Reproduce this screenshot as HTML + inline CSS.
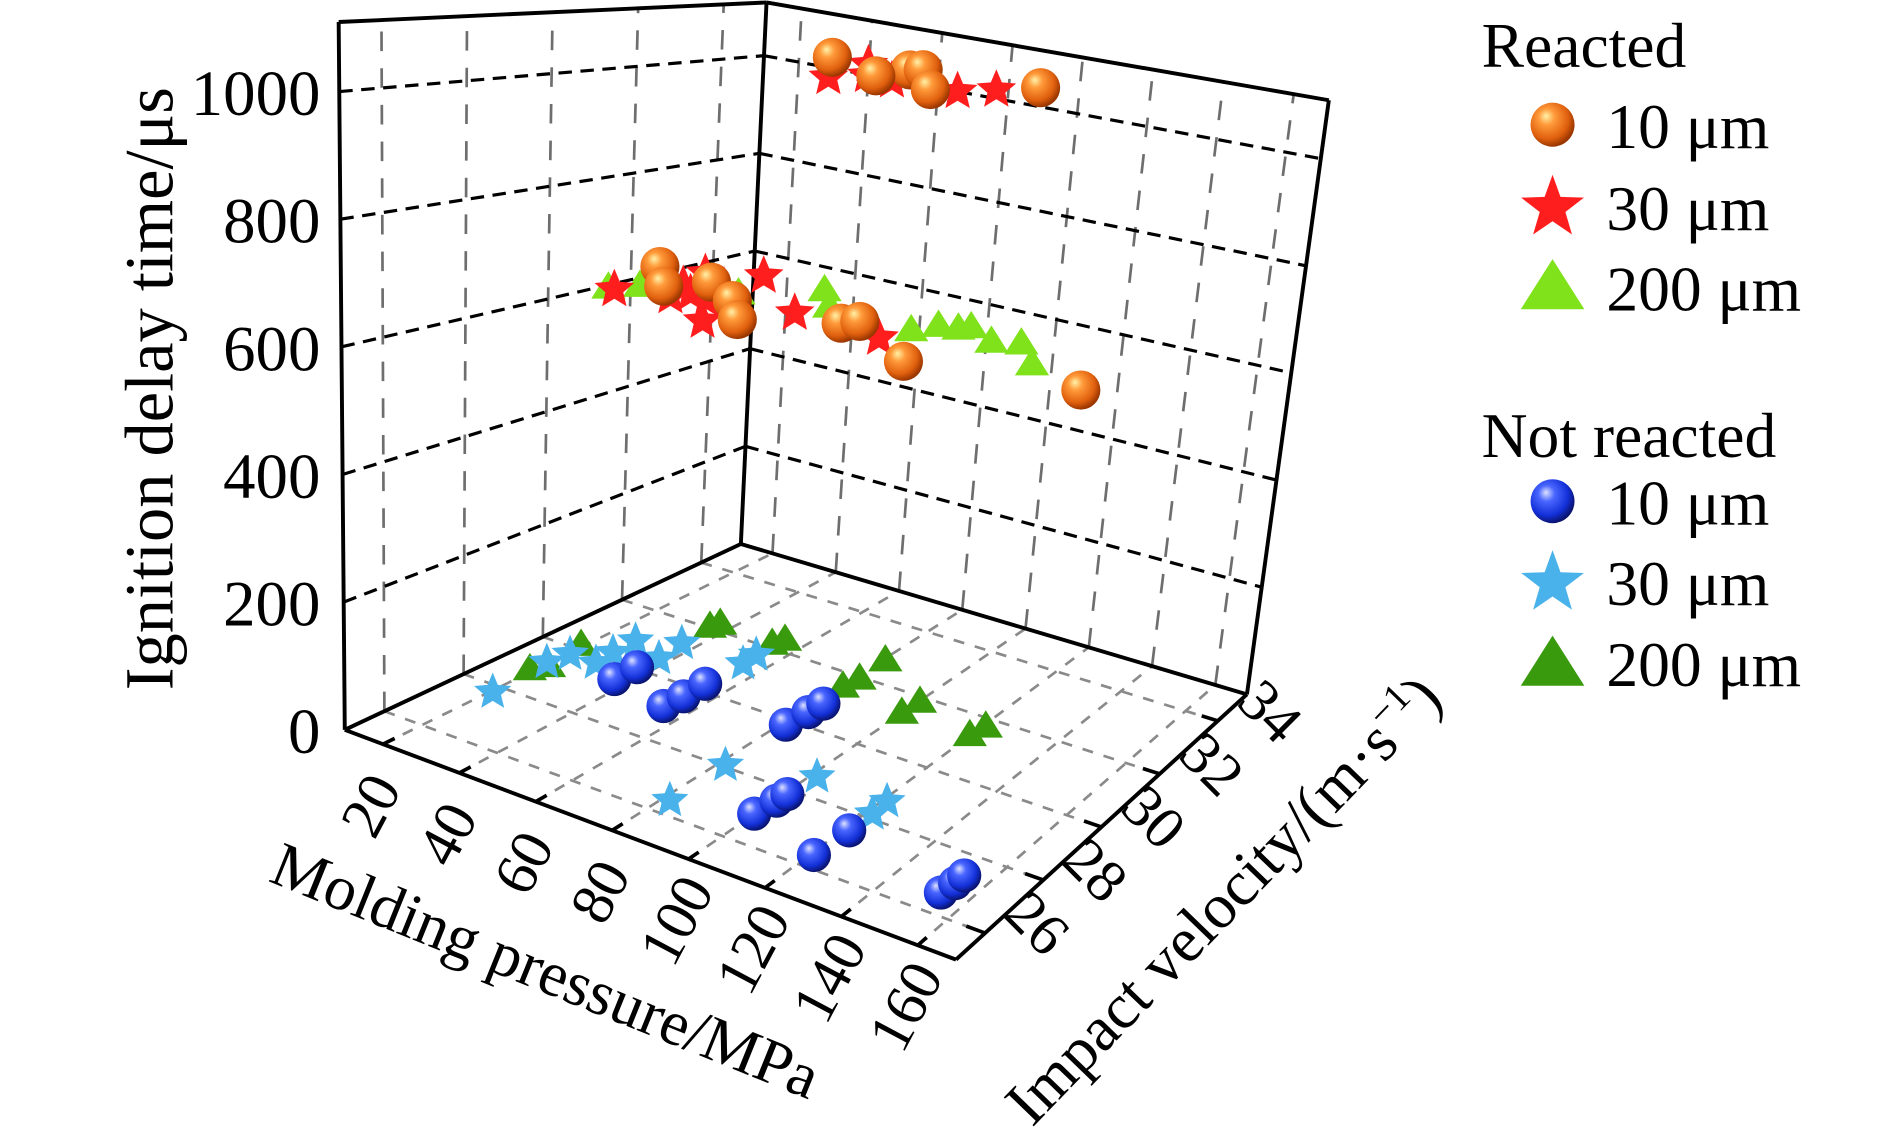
<!DOCTYPE html>
<html><head><meta charset="utf-8"><style>
html,body{margin:0;padding:0;background:#fff;}
svg{display:block;}
text{font-family:"Liberation Serif","DejaVu Serif",serif;fill:#000;}
</style></head><body>
<svg id="chart" width="1890" height="1131" viewBox="0 0 1546 925.2" xmlns="http://www.w3.org/2000/svg">
<defs>
<radialGradient id="gOrange" cx="0.4" cy="0.38" r="0.62" fx="0.35" fy="0.3">
<stop offset="0" stop-color="#fff2a8"/><stop offset="0.3" stop-color="#ff9a3a"/><stop offset="0.75" stop-color="#e0600e"/><stop offset="1" stop-color="#9a3600"/></radialGradient>
<radialGradient id="gBlue" cx="0.4" cy="0.38" r="0.62" fx="0.35" fy="0.3">
<stop offset="0" stop-color="#dde2ff"/><stop offset="0.3" stop-color="#4a66ff"/><stop offset="0.75" stop-color="#1330d8"/><stop offset="1" stop-color="#0a1470"/></radialGradient>
</defs>
<g id="grid"></g>
<g id="frame"></g>
<g id="ticks"></g>
<g id="points"></g>
<text transform="translate(141,318) rotate(-90)" text-anchor="middle" font-size="56">Ignition delay time/μs</text>
<text transform="translate(440,810) rotate(22)" text-anchor="middle" font-size="52">Molding pressure/MPa</text>
<text transform="translate(1013,748) rotate(-46)" text-anchor="middle" font-size="52">Impact velocity/(m·s<tspan font-size="32" dy="-20">−1</tspan><tspan dy="20">)</tspan></text>
<g id="legend">
<text x="1212" y="55" font-size="52">Reacted</text>
<circle cx="1270" cy="102" r="18" fill="url(#gOrange)"/>
<text x="1314" y="121" font-size="52">10 μm</text>
<path id="lgStar1" fill="#ff1e1e"/>
<text x="1314" y="188" font-size="52">30 μm</text>
<polygon points="1270,212 1296,253 1244,253" fill="#7fe21a"/>
<text x="1314" y="254" font-size="52">200 μm</text>
<text x="1212" y="374" font-size="52">Not reacted</text>
<circle cx="1270" cy="410" r="18" fill="url(#gBlue)"/>
<text x="1314" y="429" font-size="52">10 μm</text>
<path id="lgStar2" fill="#4ab2ea"/>
<text x="1314" y="495" font-size="52">30 μm</text>
<polygon points="1270,520 1296,561 1244,561" fill="#3a9a0e"/>
<text x="1314" y="561" font-size="52">200 μm</text>
</g>
</svg>
<script>
// ---- data (pressure MPa, velocity m/s, delay μs) ----
const zTicks = [0, 200, 400, 600, 800, 1000];
const pTicks = [20, 40, 60, 80, 100, 120, 140, 160];
const vTicks = [26, 28, 30, 32, 34];

const nr10Pressure = [40.1, 40.1, 57, 57.5, 57.4, 84.4, 84.9, 85.2, 103, 103.6, 103.8, 123.8, 124.2, 155.6, 156.2, 156.2];
const nr10Velocity = [29.1, 29.7, 28.8, 29.3, 29.9, 29.5, 30.1, 30.5, 26.6, 27.2, 27.5, 26.05, 27.1, 26.3, 26.7, 27.0];
const nr10Delay = [20, 20, 20, 20, 20, 20, 20, 20, 20, 20, 20, 20, 20, 20, 20, 20];

const nr30Pressure = [24.4, 23.3, 24.4, 31.7, 31.1, 31, 41, 40, 57.8, 57.4, 85, 85, 104.6, 124.4, 124];
const nr30Velocity = [27.4, 28.9, 29.4, 29.4, 29.9, 30.5, 30.2, 30.9, 30.9, 31.3, 27.7, 26.1, 28.3, 27.8, 28.3];
const nr30Delay = [20, 20, 20, 20, 20, 20, 20, 20, 20, 20, 20, 20, 20, 20, 20];

const nr200Pressure = [22.9, 25, 23.1, 39.4, 40.2, 56.7, 57.8, 84, 83.8, 84.6, 103, 103.4, 122.8, 123.7];
const nr200Velocity = [28.5, 28.8, 29.8, 31.7, 31.9, 31.8, 32.05, 32.4, 31.2, 31.6, 31.0, 31.5, 31.0, 31.4];
const nr200Delay = [20, 20, 20, 20, 20, 20, 20, 20, 20, 20, 20, 20, 20, 20];

const r200Pressure = [26.2, 29.3, 46.6, 57.7, 66.5, 90.5, 93.1, 97.7, 99.3, 109, 115, 125.2];
const r200Velocity = [30.0, 30.5, 31.4, 32.6, 31.9, 31.8, 32.3, 32.4, 32.6, 32.2, 32.45, 31.7];
const r200Delay = [650, 650, 650, 650, 650, 650, 650, 650, 650, 650, 650, 650];

const r30Pressure = [59.6, 54.3, 62.6, 69.5, 85.5, 90, 27.8, 38.7, 34.6, 39.9, 31.3, 45.4, 54.8, 41, 64.3, 88.6];
const r30Velocity = [32.2, 33.7, 32.9, 32.9, 33.1, 33.7, 30.0, 30.4, 31.1, 30.8, 31.95, 30.7, 29.7, 32.55, 31.2, 31.1];
const r30Delay = [1054, 1054, 1054, 1054, 1054, 1054, 650, 650, 650, 650, 650, 650, 650, 650, 650, 650];

const r10Pressure = [44.2, 63.7, 65.2, 64, 80.6, 95.1, 21.4, 32.5, 36.9, 49.2, 59, 76.1, 78.2, 102.2, 143.4];
const r10Velocity = [33.7, 33.9, 34.1, 33.0, 32.85, 34.4, 31.7, 30.8, 31.6, 31.0, 30.2, 31.3, 31.6, 30.4, 31.2];
const r10Delay = [1054, 1054, 1054, 1054, 1054, 1054, 650, 650, 650, 650, 650, 650, 650, 650, 650];

// ---- axes ----
const PMIN = 10, PMAX = 170, VMIN = 25, VMAX = 35, TMAX = 1109;
const CL = [282, 597], CF = [782, 785], CR = [1020, 568], CB = [606, 445];
const UL = [-5, -579], UF = [40, -600], UR = [67, -486], UB = [21, -443];
function bil(a, b, c, d, u, v) {
  return [a[0]*(1-u)*(1-v) + b[0]*u*(1-v) + c[0]*u*v + d[0]*(1-u)*v,
          a[1]*(1-u)*(1-v) + b[1]*u*(1-v) + c[1]*u*v + d[1]*(1-u)*v];
}
function proj(p, vel, t) {
  const u = (p - PMIN) / (PMAX - PMIN), v = (vel - VMIN) / (VMAX - VMIN), f = t / TMAX;
  const g = bil(CL, CF, CR, CB, u, v), h = bil(UL, UF, UR, UB, u, v);
  return [g[0] + f*h[0], g[1] + f*h[1]];
}
const NS = 'http://www.w3.org/2000/svg';
function line(parent, a, b, stroke, w, dash, name) {
  const el = document.createElementNS(NS, 'line');
  el.setAttribute('x1', a[0]); el.setAttribute('y1', a[1]);
  el.setAttribute('x2', b[0]); el.setAttribute('y2', b[1]);
  el.setAttribute('stroke', stroke); el.setAttribute('stroke-width', w);
  if (dash) el.setAttribute('stroke-dasharray', dash);
  
  
  parent.appendChild(el);
  return el;
}
const grid = document.getElementById('grid');
const frame = document.getElementById('frame');
const ticks = document.getElementById('ticks');
const pts = document.getElementById('points');

pTicks.forEach(p => line(grid, proj(p, VMIN, 0), proj(p, VMAX, 0), '#8a8a8a', 2.2, '9 9', 'floor-grid-pressure'));
vTicks.forEach(v => line(grid, proj(PMIN, v, 0), proj(PMAX, v, 0), '#8a8a8a', 2.2, '9 9', 'floor-grid-velocity'));
vTicks.forEach(v => line(grid, proj(PMIN, v, 0), proj(PMIN, v, TMAX), '#6e6e6e', 2.2, '16 14', 'left-wall-grid-vertical'));
pTicks.forEach(p => line(grid, proj(p, VMAX, 0), proj(p, VMAX, TMAX), '#6e6e6e', 2.2, '16 14', 'right-wall-grid-vertical'));
zTicks.slice(1).forEach(t => {
  line(grid, proj(PMIN, VMIN, t), proj(PMIN, VMAX, t), '#000', 2.6, '11 7', 'left-wall-grid-horizontal');
  line(grid, proj(PMIN, VMAX, t), proj(PMAX, VMAX, t), '#000', 2.6, '11 7', 'right-wall-grid-horizontal');
});
const fr = [
  [[PMIN,VMIN,0],[PMIN,VMIN,TMAX]], [[PMIN,VMAX,0],[PMIN,VMAX,TMAX]], [[PMAX,VMAX,0],[PMAX,VMAX,TMAX]],
  [[PMIN,VMIN,TMAX],[PMIN,VMAX,TMAX]], [[PMIN,VMAX,TMAX],[PMAX,VMAX,TMAX]],
  [[PMIN,VMIN,0],[PMAX,VMIN,0]], [[PMAX,VMIN,0],[PMAX,VMAX,0]],
  [[PMIN,VMIN,0],[PMIN,VMAX,0]], [[PMIN,VMAX,0],[PMAX,VMAX,0]]
];
fr.forEach(s => line(frame, proj(...s[0]), proj(...s[1]), '#000', 3.2, null, 'frame-edge'));

function label(parent, x, y, txt, rot, anchor, size, name) {
  const el = document.createElementNS(NS, 'text');
  el.setAttribute('transform', `translate(${x},${y}) rotate(${rot})`);
  el.setAttribute('text-anchor', anchor);
  el.setAttribute('font-size', size);
  el.setAttribute('dominant-baseline', 'central');
  el.textContent = txt;
  
  
  parent.appendChild(el);
}
zTicks.forEach(t => {
  const a = proj(PMIN, VMIN, t);
  label(ticks, 262, a[1] + 2, String(t), 0, 'end', 53, 'z-tick-label');
});
pTicks.forEach(p => {
  const a = proj(p, VMIN, 0);
  line(ticks, a, proj(p, VMIN + 0.3, 0), '#000', 3, null, 'x-tick-mark');
  label(ticks, a[0] - 10, a[1] + 50, String(p), -62, 'middle', 49, 'x-tick-label');
});
vTicks.forEach(v => {
  const a = proj(PMAX, v, 0);
  line(ticks, a, proj(PMAX - 5, v, 0), '#000', 3, null, 'velocity-tick-mark');
  label(ticks, a[0] + 43, a[1] - 8, String(v), 45, 'middle', 49, 'velocity-tick-label');
});

function starPath(cx, cy, R, r) {
  let d = '';
  for (let i = 0; i < 10; i++) {
    const ang = -Math.PI/2 + i*Math.PI/5, rad = i % 2 ? r : R;
    d += (i ? 'L' : 'M') + (cx + rad*Math.cos(ang)).toFixed(1) + ',' + (cy + rad*Math.sin(ang)).toFixed(1);
  }
  return d + 'Z';
}
document.getElementById('lgStar1').setAttribute('d', starPath(1270, 170, 27, 11));
document.getElementById('lgStar2').setAttribute('d', starPath(1270, 477, 27, 11));

function drawSeries(P, V, T, kind, fill, size, name) {
  const g = document.createElementNS(NS, 'g');
  
  
  pts.appendChild(g);
  for (let i = 0; i < P.length; i++) {
    const c = proj(P[i], V[i], T[i]);
    let el;
    if (kind === 'sphere') {
      el = document.createElementNS(NS, 'circle');
      el.setAttribute('cx', c[0]); el.setAttribute('cy', c[1]); el.setAttribute('r', size);
    } else if (kind === 'star') {
      el = document.createElementNS(NS, 'path');
      el.setAttribute('d', starPath(c[0], c[1], size, size * 0.45));
    } else {
      el = document.createElementNS(NS, 'polygon');
      const h = size * 1.6, w = size * 1.0;
      el.setAttribute('points', `${c[0]},${c[1]-h*0.6} ${c[0]+w},${c[1]+h*0.4} ${c[0]-w},${c[1]+h*0.4}`);
    }
    el.setAttribute('fill', fill);
    
    
    g.appendChild(el);
  }
}
drawSeries(nr200Pressure, nr200Velocity, nr200Delay, 'tri', '#3a9a0e', 14, 'not-reacted-200um');
drawSeries(nr30Pressure, nr30Velocity, nr30Delay, 'star', '#4ab2ea', 16, 'not-reacted-30um');
drawSeries(nr10Pressure, nr10Velocity, nr10Delay, 'sphere', 'url(#gBlue)', 14, 'not-reacted-10um');
drawSeries(r200Pressure, r200Velocity, r200Delay, 'tri', '#7fe21a', 14, 'reacted-200um');
drawSeries(r30Pressure, r30Velocity, r30Delay, 'star', '#ff1e1e', 17, 'reacted-30um');
drawSeries(r10Pressure, r10Velocity, r10Delay, 'sphere', 'url(#gOrange)', 16, 'reacted-10um');
</script>
</body></html>
